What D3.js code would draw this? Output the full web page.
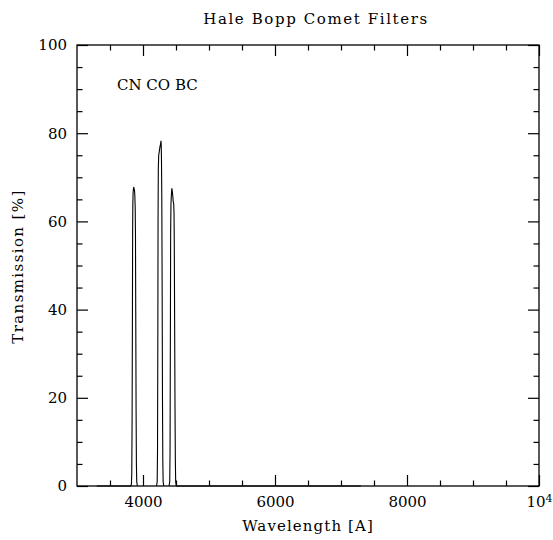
<!DOCTYPE html>
<html lang="en">
<head>
    <meta charset="UTF-8">
    <title>Hale Bopp Comet Filters</title>
    <style type="text/css">
        html, body { padding:0; margin:0; background:#fff; }
        text { font-family: "DejaVu Serif", "Liberation Serif", serif; fill:#000; }
    </style>
</head>
<body>
<script src="https://d3js.org/d3.v7.min.js"></script>
<script>
    // filter curves (wavelength in A, transmission in %)
    var cnWave  = [3300, 3815, 3825, 3830, 3835, 3840, 3843, 3846, 3850, 3856, 3862, 3866, 3870, 3876, 3882, 3886, 3890, 3895, 3900, 3905, 3915];
    var cnTrans = [0,    0,    0.5,  3,    15,   40,   58,   64,   66.5, 67.5, 67.8, 67.0, 67.3, 66,   63,   57,   40,   18,   5,    1,    0];

    var coWave  = [4205, 4215, 4220, 4225, 4228, 4232, 4238, 4248, 4258, 4266, 4272, 4276, 4280, 4285, 4290, 4295, 4300, 4305, 4315];
    var coTrans = [0,    1,    8,    35,   60,   72,   75,   76,   77,   77.5, 78.3, 77.5, 74,   65,   45,   20,   6,    1,    0];

    var bcWave  = [4395, 4405, 4410, 4415, 4419, 4424, 4430, 4437, 4443, 4450, 4458, 4465, 4470, 4474, 4479, 4485, 4490, 4495, 4505, 7300];
    var bcTrans = [0,    1,    8,    35,   58,   64,   66,   67.5, 67,   66,   64.5, 64,   62,   55,   38,   18,   6,    1,    0,    0];

    var xMajorTicks = [4000, 6000, 8000, 10000];
    var xMinorTicks = [3500, 4500, 5000, 5500, 6500, 7000, 7500, 8500, 9000, 9500];
    var yMajorTicks = [0, 20, 40, 60, 80, 100];
    var yMinorTicks = [5, 10, 15, 25, 30, 35, 45, 50, 55, 65, 70, 75, 85, 90, 95];

    var filterNames = ['CN', 'CO', 'BC'];

    var width = 553,
        height = 540,
        plotLeft = 77, plotRight = 539,
        plotTop = 45, plotBottom = 486;

    var svg = d3.select('body').append('svg')
                .attr('width', width)
                .attr('height', height);

    var scaleX = d3.scaleLinear().domain([3000, 10000]).range([plotLeft, plotRight]),
        scaleY = d3.scaleLinear().domain([0, 100]).range([plotBottom, plotTop]);

    // ticks on all four sides, pointing inwards
    function ticks(axis, values, size, labels) {
        return axis.tickValues(values)
                   .tickSize(-size)
                   .tickPadding(labels ? 10 : 0)
                   .tickFormat(labels ? d3.format('d') : '');
    }

    var bottomMajor = svg.append('g')
       .attr('class', 'xAxis')
       .attr('transform', 'translate(0,' + plotBottom + ')')
       .call(ticks(d3.axisBottom(scaleX), xMajorTicks, 11, true));
    svg.append('g')
       .attr('transform', 'translate(0,' + plotBottom + ')')
       .call(ticks(d3.axisBottom(scaleX), xMinorTicks, 5.5, false));
    svg.append('g')
       .attr('transform', 'translate(0,' + plotTop + ')')
       .call(ticks(d3.axisTop(scaleX), xMajorTicks, 11, false));
    svg.append('g')
       .attr('transform', 'translate(0,' + plotTop + ')')
       .call(ticks(d3.axisTop(scaleX), xMinorTicks, 5.5, false));

    svg.append('g')
       .attr('class', 'yAxis')
       .attr('transform', 'translate(' + plotLeft + ',0)')
       .call(ticks(d3.axisLeft(scaleY), yMajorTicks, 11, true));
    svg.append('g')
       .attr('transform', 'translate(' + plotLeft + ',0)')
       .call(ticks(d3.axisLeft(scaleY), yMinorTicks, 5.5, false));
    svg.append('g')
       .attr('transform', 'translate(' + plotRight + ',0)')
       .call(ticks(d3.axisRight(scaleY), yMajorTicks, 11, false));
    svg.append('g')
       .attr('transform', 'translate(' + plotRight + ',0)')
       .call(ticks(d3.axisRight(scaleY), yMinorTicks, 5.5, false));

    svg.selectAll('.domain').remove();
    svg.selectAll('.tick line').attr('stroke', '#000').attr('stroke-width', 1.2);
    svg.selectAll('.tick text')
       .style('font-family', '"DejaVu Serif", serif')
       .style('font-size', '15px');

    // pgplot style 10^4 label at the right end
    bottomMajor.selectAll('.tick text')
       .filter(function(d) { return d === 10000; })
       .text('')
       .call(function(t) {
           t.append('tspan').text('10');
           t.append('tspan').attr('dy', '-0.45em').style('font-size', '11px').text('4');
       });

    svg.append('rect')
       .attr('x', plotLeft).attr('y', plotTop)
       .attr('width', plotRight - plotLeft).attr('height', plotBottom - plotTop)
       .attr('fill', 'none')
       .attr('stroke', '#000')
       .attr('stroke-width', 1.3);

    var line = d3.line()
                 .x(function(d) { return scaleX(d[0]); })
                 .y(function(d) { return scaleY(d[1]); });

    var curves = [d3.zip(cnWave, cnTrans), d3.zip(coWave, coTrans), d3.zip(bcWave, bcTrans)];

    svg.selectAll('path.line')
       .data(curves)
       .enter()
       .append('path')
       .attr('class', 'line')
       .attr('fill', 'none')
       .attr('stroke', '#000')
       .attr('stroke-width', 1.1)
       .attr('d', line);

    svg.append('text')
       .attr('x', (plotLeft + plotRight) / 2 + 8)
       .attr('y', 24)
       .attr('text-anchor', 'middle')
       .style('font-size', '15px')
       .style('letter-spacing', '1.6px')
       .text('Hale Bopp Comet Filters');

    svg.append('text')
       .attr('x', 117)
       .attr('y', 90)
       .style('font-size', '15px')
       .text(filterNames.join(' '));

    svg.append('text')
       .attr('x', (plotLeft + plotRight) / 2)
       .attr('y', 531)
       .attr('text-anchor', 'middle')
       .style('font-size', '15px')
       .style('letter-spacing', '1.1px')
       .text('Wavelength [A]');

    svg.append('text')
       .attr('transform', 'translate(23,' + ((plotTop + plotBottom) / 2 + 1) + ') rotate(-90)')
       .attr('text-anchor', 'middle')
       .style('font-size', '15px')
       .style('letter-spacing', '1.4px')
       .text('Transmission [%]');
</script>
</body>
</html>
